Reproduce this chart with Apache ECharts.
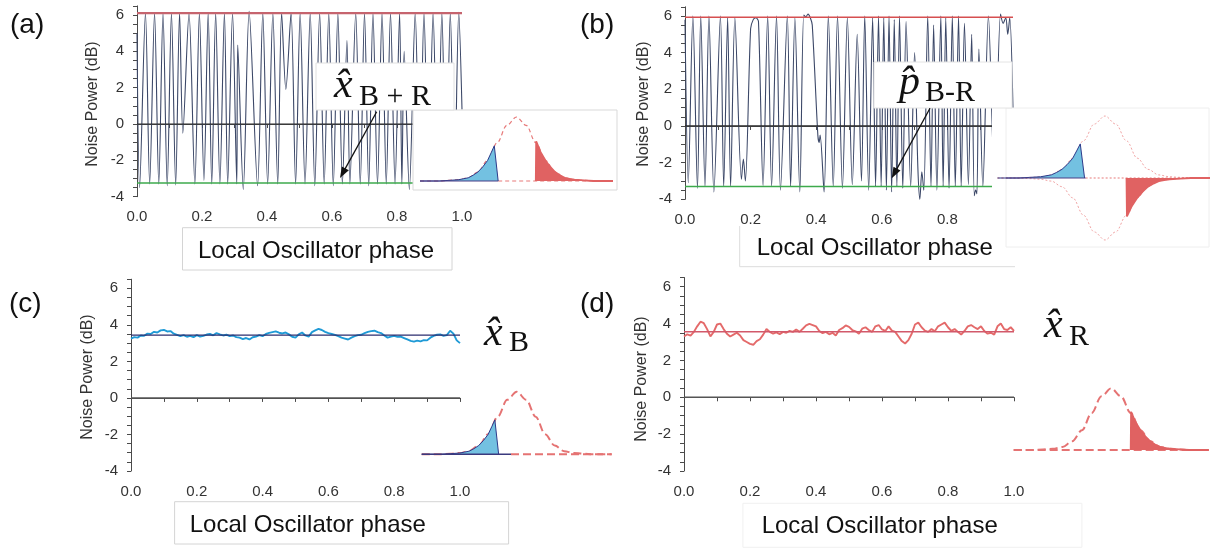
<!DOCTYPE html>
<html><head><meta charset="utf-8">
<script src="https://cdn.jsdelivr.net/npm/echarts@6/dist/echarts.min.js"></script>
<style>html,body{margin:0;padding:0;background:#fff}#c{width:1210px;height:548px}</style>
</head><body><div id="c"></div>
<script>
// ---------------- data ----------------
const xTickLabels = ['0.0','0.2','0.4','0.6','0.8','1.0'];
const yTickLabels = ['-4','-2','0','2','4','6'];
const axisTitle = 'Local Oscillator phase';
const yTitle = 'Noise Power (dB)';
const panelLabels = ['(a)','(b)','(c)','(d)'];

// (a) x_B+R fringes
const aPhase = [0.000,0.008,0.026,0.039,0.054,0.067,0.080,0.093,0.106,0.119,0.131,0.141,0.160,0.178,0.192,0.206,0.219,0.230,0.242,0.255,0.269,0.279,0.294,0.307,0.310,0.327,0.345,0.371,0.387,0.402,0.418,0.433,0.445,0.458,0.474,0.488,0.502,0.517,0.533,0.547,0.562,0.576,0.590,0.604,0.618,0.632,0.646,0.655,0.673,0.687,0.700,0.713,0.726,0.740,0.754,0.767,0.780,0.794,0.808,0.815,0.822,0.838,0.856,0.870,0.883,0.897,0.911,0.925,0.938,0.951,0.964,0.977,0.990,1.000];
const aNoise = [5.0,-3.5,6.1,-3.3,6.1,-3.3,6.1,-3.4,6.1,-3.35,6.1,-0.5,6.1,-3.3,6.1,-3.1,6.1,-3.3,6.1,-3.3,6.1,-3.3,6.1,-3.3,4.35,-3.6,6.2,-3.4,6.1,-3.3,6.1,-3.3,6.1,1.9,6.1,-3.3,6.1,-3.3,6.1,-3.4,6.1,-3.3,6.1,-3.4,6.1,-3.3,4.6,-3.3,6.1,-3.3,6.1,-3.4,6.1,-3.3,6.1,-3.3,6.1,-3.3,6.1,-3.3,4.0,-3.6,6.1,-3.3,6.1,-3.3,6.1,-3.3,6.1,-3.3,6.1,-3.3,6.15,0.8];
const aMax = 6.1, aMin = -3.25;

// (b) p_B-R fringes
const bPhase = [0.000,0.010,0.024,0.038,0.048,0.061,0.073,0.088,0.108,0.118,0.130,0.139,0.152,0.172,0.178,0.184,0.200,0.208,0.216,0.224,0.238,0.252,0.264,0.279,0.291,0.312,0.322,0.335,0.350,0.362,0.368,0.375,0.382,0.388,0.405,0.409,0.412,0.424,0.437,0.452,0.465,0.480,0.495,0.510,0.525,0.538,0.548,0.560,0.572,0.581,0.590,0.598,0.606,0.614,0.622,0.630,0.638,0.646,0.654,0.664,0.674,0.688,0.700,0.710,0.716,0.722,0.728,0.740,0.750,0.758,0.768,0.780,0.787,0.795,0.805,0.815,0.824,0.834,0.842,0.852,0.864,0.874,0.882,0.886,0.890,0.896,0.908,0.925,0.944,0.962,0.970,0.978,0.984,0.990,1.000];
const bNoise = [5.8,-3.1,6.0,-3.4,6.0,-3.3,6.0,-3.6,6.0,-3.3,5.9,-3.3,5.9,-2.9,-1.8,-3.0,5.3,5.8,5.9,5.7,-3.25,6.0,-3.3,6.0,-3.5,6.0,-3.3,5.9,-3.6,6.05,5.95,6.1,5.9,5.5,-0.5,-0.9,-0.5,-3.6,6.0,-3.3,6.0,-3.4,5.9,-3.2,5.0,-3.0,6.0,-3.5,5.9,-3.3,6.0,-3.3,5.9,-3.5,6.0,-3.6,5.8,-3.3,6.0,-3.4,5.7,-3.3,4.0,-2.3,-4.0,-2.5,-3.5,6.0,-3.3,5.5,-3.5,6.0,-3.3,5.9,-3.4,6.0,-3.3,6.0,-3.3,5.6,-3.2,5.0,-3.8,-3.5,-3.7,4.2,-3.3,6.0,-3.3,6.1,5.6,5.9,5.0,5.9,0.9];
const bMax = 5.93, bMin = -3.3;

// (c) x_B noise trace, samples evenly spaced over phase 0..1
const cNoise = [3.25,3.33,3.30,3.42,3.40,3.52,3.50,3.62,3.58,3.70,3.72,3.64,3.66,3.52,3.45,3.38,3.44,3.35,3.40,3.33,3.44,3.36,3.40,3.47,3.50,3.43,3.55,3.48,3.42,3.46,3.38,3.42,3.33,3.30,3.22,3.28,3.20,3.32,3.36,3.44,3.38,3.50,3.56,3.60,3.64,3.57,3.53,3.58,3.48,3.35,3.30,3.48,3.58,3.42,3.36,3.60,3.70,3.78,3.72,3.62,3.55,3.50,3.45,3.38,3.30,3.25,3.20,3.30,3.38,3.44,3.46,3.55,3.62,3.66,3.68,3.60,3.55,3.42,3.30,3.36,3.40,3.34,3.36,3.28,3.20,3.12,3.08,3.14,3.10,3.16,3.15,3.30,3.40,3.46,3.48,3.40,3.44,3.68,3.52,3.15,3.00];
const cMean = 3.44;

// (d) x_R noise trace
const dNoise = [3.30,3.42,3.35,3.55,3.85,4.10,4.02,3.70,3.30,3.55,3.95,4.00,3.70,3.45,3.30,3.40,3.50,3.35,3.10,3.00,2.90,2.85,3.05,3.15,3.40,3.70,3.55,3.45,3.52,3.42,3.55,3.50,3.60,3.55,3.68,3.55,3.72,3.90,3.98,3.92,3.85,3.60,3.48,3.55,3.42,3.50,3.35,3.65,3.75,3.90,3.82,3.65,3.58,3.45,3.72,3.80,3.65,3.55,3.85,3.92,3.68,3.60,3.85,3.62,3.55,3.30,3.05,2.92,3.10,3.45,3.95,4.05,3.80,3.62,3.55,3.70,3.58,3.85,3.95,4.05,3.80,3.60,3.70,3.55,3.40,3.60,3.85,3.92,3.80,3.70,3.85,3.60,3.45,3.50,3.40,3.85,4.00,3.70,3.65,3.80,3.60];
const dMean = 3.56;

// inset sketches (quadrature distributions), x in widths, y normalised
const profX = [-5,-4.5,-4,-3.5,-3,-2.5,-2,-1.5,-1,-0.5,0,0.5,1,1.5,2,2.5,3,3.5,4,4.5,5];
const profY = [0,0,0,0.01,0.02,0.05,0.14,0.32,0.6,0.87,1,0.87,0.6,0.32,0.14,0.05,0.02,0.01,0,0,0];
const blueX = [-5,-4,-3.5,-3,-2.75,-2.5,-2.25,-2,-1.75,-1.5,-1.3,-1.15,-0.95];
const blueY = [0,0,0.01,0.02,0.035,0.05,0.09,0.14,0.22,0.32,0.45,0.55,0];
const redX = [1.0,1.02,1.25,1.5,1.75,2,2.25,2.5,2.75,3,3.5,4,5];
const redY = [0,0.62,0.45,0.32,0.22,0.14,0.09,0.05,0.035,0.02,0.01,0,0];

// ---------------- chart ----------------
const SANS = '"Liberation Sans", Arial, sans-serif';
const SERIF = '"Liberation Serif", "DejaVu Serif", serif';
const zip = (xs, ys) => xs.map((x, i) => [x, ys[i]]);
const even = (xs) => xs.map((x, i) => [i / (xs.length - 1), x]);

const panels = [
  {left:137, top:5.9, width:325, height:190.8},
  {left:685, top:6.8, width:328, height:192.5},
  {left:131, top:279.2, width:329, height:191.8},
  {left:684, top:277.5, width:330, height:193.5}
];
const insets = [
  {left:420, top:117, width:193, height:64, ymin:0, ymax:1},
  {left:997.5, top:116, width:215, height:124, ymin:-1, ymax:1},
  {left:421.7, top:391.7, width:190, height:62.6, ymin:0, ymax:1},
  {left:1013.7, top:388.3, width:195, height:61.7, ymin:0, ymax:1}
];

const grid = [];
const xAxis = [];
const yAxis = [];
const axCol = '#4a4a4a';
panels.forEach((p, i) => {
  grid.push({left:p.left, top:p.top, width:p.width, height:p.height, containLabel:false, outerBoundsMode:'none'});
  xAxis.push({gridIndex:i, type:'value', min:0, max:1, interval:0.1, offset:5,
    axisLine:{lineStyle:{color:axCol, width:1}},
    axisTick:{length:4, lineStyle:{color:axCol}},
    splitLine:{show:false},
    axisLabel:{margin:8, fontSize:15, color:'#333', fontFamily:SANS,
      formatter:(v) => { const k = Math.round(v * 10); return (Math.abs(v*10 - k) < 1e-6 && k % 2 === 0) ? xTickLabels[k/2] : ''; }}
  });
  yAxis.push({gridIndex:i, type:'value', min:-4, max:6.5, interval:0.5, offset:4,
    axisLine:{show:true, lineStyle:{color:axCol, width:1}},
    axisTick:{show:true, length:4, lineStyle:{color:axCol}},
    splitLine:{show:false},
    axisLabel:{margin:9, fontSize:15, color:'#333', fontFamily:SANS,
      formatter:(v) => { const r = Math.round(v); return (Math.abs(v - r) < 1e-6 && r % 2 === 0) ? yTickLabels[(r + 4)/2] : ''; }}
  });
});
insets.forEach((p, j) => {
  grid.push({left:p.left, top:p.top, width:p.width, height:p.height, containLabel:false, outerBoundsMode:'none'});
  xAxis.push({gridIndex:4+j, type:'value', min:-5, max:5, show:false});
  yAxis.push({gridIndex:4+j, type:'value', min:p.ymin, max:p.ymax, show:false});
});

function line(gi, data, ls, extra) {
  return Object.assign({type:'line', xAxisIndex:gi, yAxisIndex:gi, data:data, symbol:'none', showSymbol:false,
    silent:true, animation:false, lineStyle:ls, clip:false}, extra || {});
}
const hl = (v) => [[0, v], [1, v]];

const series = [];
// (a)
series.push(line(0, zip(aPhase, aNoise), {color:'#3c4868', width:1.1}, {smooth:0.3}));
series.push(line(0, hl(aMax), {color:'#c6646e', width:2.2}));
series.push(line(0, hl(aMin), {color:'#3daa4c', width:1.5}));
series.push(line(0, hl(0), {color:'#2a2a2a', width:1.2}));
// (b)
series.push(line(1, zip(bPhase, bNoise), {color:'#3c4868', width:1.1}, {smooth:0.3}));
series.push(line(1, hl(bMax), {color:'#d64f50', width:1.5}));
series.push(line(1, hl(bMin), {color:'#3daa4c', width:1.5}));
series.push(line(1, hl(0), {color:'#2a2a2a', width:1.2}));
// (c)
series.push(line(2, hl(0), {color:'#555', width:1.5}));
series.push(line(2, even(cNoise), {color:'#1f9ad6', width:1.9}));
series.push(line(2, hl(cMean), {color:'#2b2d6e', width:1.3}));
// (d)
series.push(line(3, hl(0), {color:'#555', width:1.5}));
series.push(line(3, even(dNoise), {color:'#e46a6a', width:1.9}));
series.push(line(3, hl(dMean), {color:'#d2596a', width:1.6}));

// insets
const Z = 20;
const prof = zip(profX, profY);
const profNeg = zip(profX, profY.map(v => -v));
const blue = zip(blueX, blueY);
const red = zip(redX, redY);
const redNeg = zip(redX, redY.map(v => -v));
const blueArea = (gi) => line(gi, blue, {color:'#2d3a8a', width:1}, {z:Z+1, areaStyle:{color:'#73c1e1', opacity:1}});
const redArea = (gi, d) => line(gi, d, {color:'#e06262', width:1.8}, {z:Z+1, areaStyle:{color:'#e06262', opacity:1}});
// inset A
series.push(line(4, prof, {color:'#e77a7a', width:1.2, type:[4,3]}, {z:Z, smooth:0.35, smoothMonotone:'x'}));
series.push(line(4, [[-0.95,0],[5,0]], {color:'#e77a7a', width:1.2, type:[4,3]}, {z:Z}));
series.push(blueArea(4));
series.push(redArea(4, red));
series.push(line(4, [[-5,0],[-0.95,0]], {color:'#4b3f86', width:1.2}, {z:Z+2}));
// inset B
series.push(line(5, prof, {color:'#ee9a9a', width:0.9, type:[2,2]}, {z:Z, smooth:0.35, smoothMonotone:'x'}));
series.push(line(5, profNeg, {color:'#ee9a9a', width:0.9, type:[2,2]}, {z:Z, smooth:0.35, smoothMonotone:'x'}));
series.push(line(5, [[-0.9,0],[4.6,0]], {color:'#e77a7a', width:1.2, type:[2,2]}, {z:Z}));
series.push(blueArea(5));
series.push(redArea(5, redNeg));
series.push(line(5, [[-4.6,0],[-0.9,0]], {color:'#4b3f86', width:1.2}, {z:Z+2}));
// inset C
series.push(line(6, prof, {color:'#e57373', width:2, type:[8,4]}, {z:Z, smooth:0.35, smoothMonotone:'x'}));
series.push(line(6, [[-0.3,0],[5,0]], {color:'#e57373', width:2, type:[8,4]}, {z:Z}));
series.push(blueArea(6));
series.push(line(6, [[-5,0],[-0.3,0]], {color:'#3b3a7e', width:1.6}, {z:Z+2}));
// inset D
series.push(line(7, prof, {color:'#e57373', width:2, type:[8,4]}, {z:Z, smooth:0.35, smoothMonotone:'x'}));
series.push(line(7, [[-5,0],[5,0]], {color:'#e57373', width:2, type:[8,4]}, {z:Z}));
series.push(redArea(7, red));

// ---------------- annotations ----------------
const graphic = [];
function rect(x, y, w, h, stroke, z) {
  graphic.push({type:'rect', z:z || 10, silent:true, shape:{x:x, y:y, width:w, height:h},
    style:{fill:'#fff', stroke:stroke || null, lineWidth:1}});
}
function text(x, y, t, font, opts) {
  opts = opts || {};
  graphic.push({type:'text', z:30, silent:true, x:x, y:y, rotation:opts.rot || 0,
    style:{text:t, x:0, y:0, font:font, fill:opts.fill || '#111',
      align:opts.align || 'left', verticalAlign:'middle', textAlign:opts.align || 'left', textVerticalAlign:'middle'}});
}
function arrow(x1, y1, x2, y2) {
  const dx = x2 - x1, dy = y2 - y1, L = Math.hypot(dx, dy), ux = dx / L, uy = dy / L;
  const hl = 11, hw = 4;
  const bx = x2 - ux * hl, by = y2 - uy * hl;
  graphic.push({type:'line', z:30, silent:true, shape:{x1:x1, y1:y1, x2:bx + ux*2, y2:by + uy*2}, style:{stroke:'#111', lineWidth:1.3}});
  graphic.push({type:'polygon', z:30, silent:true, shape:{points:[[x2, y2], [bx - uy*hw, by + ux*hw], [bx + uy*hw, by - ux*hw]]}, style:{fill:'#111'}});
}
const mathMid = (baseline, size) => baseline - 0.3375 * size;
function math(x, baseline, main, sub, subX, subBase) {
  text(x, mathMid(baseline, 42), main, 'italic 42px ' + SERIF);
  text(subX, mathMid(subBase, 30), sub, '30px ' + SERIF);
}

// x-axis title boxes
rect(182.5, 227.7, 269.5, 42.3, '#d4d4d4', 5);
text(316, 251.5, axisTitle, '24px ' + SANS, {align:'center'});
graphic.push({type:'polyline', z:5, silent:true, shape:{points:[[739.7,226],[739.7,266.7],[1015,266.7]]}, style:{stroke:'#dcdcdc', fill:null, lineWidth:1}});
rect(174.6, 501.7, 334, 42.3, '#d4d4d4', 5);
text(307.8, 525, axisTitle, '24px ' + SANS, {align:'center'});
rect(742.9, 503.3, 339, 44, '#f0f0f0', 5);
text(879.7, 526.7, axisTitle, '24px ' + SANS, {align:'center'});

// inset / label boxes
rect(413, 110, 204, 80, '#d9d9d9');
rect(316, 63, 138, 47, '#e0e0e0');
rect(992, 108, 218, 140, null);
rect(1006, 108, 203, 139, '#eeeeee');
rect(874, 62, 138, 46, '#e4e4e4');
text(874.8, 248.3, axisTitle, '24px ' + SANS, {align:'center'});

// y-axis titles
text(93, 104, yTitle, '16px ' + SANS, {align:'center', rot:Math.PI/2, fill:'#333'});
text(644, 104, yTitle, '16px ' + SANS, {align:'center', rot:Math.PI/2, fill:'#333'});
text(88, 377, yTitle, '16px ' + SANS, {align:'center', rot:Math.PI/2, fill:'#333'});
text(642, 379, yTitle, '16px ' + SANS, {align:'center', rot:Math.PI/2, fill:'#333'});

// panel labels
text(10, 25, panelLabels[0], '28px ' + SANS);
text(580, 25, panelLabels[1], '28px ' + SANS);
text(9, 304, panelLabels[2], '28px ' + SANS);
text(580, 304, panelLabels[3], '28px ' + SANS);

// quadrature labels
math(334, 100, 'x\u0302', 'B + R', 359, 107);
math(899, 97, 'p\u0302', 'B-R', 925, 103);
math(484, 348, 'x\u0302', 'B', 509, 353);
math(1044, 340, 'x\u0302', 'R', 1069, 347);

arrow(376.7, 111.7, 340, 178);
arrow(930, 108.3, 891.7, 178.3);

const chart = echarts.init(document.getElementById('c'), null, {renderer:'canvas', width:1210, height:548});
chart.setOption({animation:false, backgroundColor:'#fff', grid:grid, xAxis:xAxis, yAxis:yAxis, series:series, graphic:{elements:graphic}});
</script></body></html>
